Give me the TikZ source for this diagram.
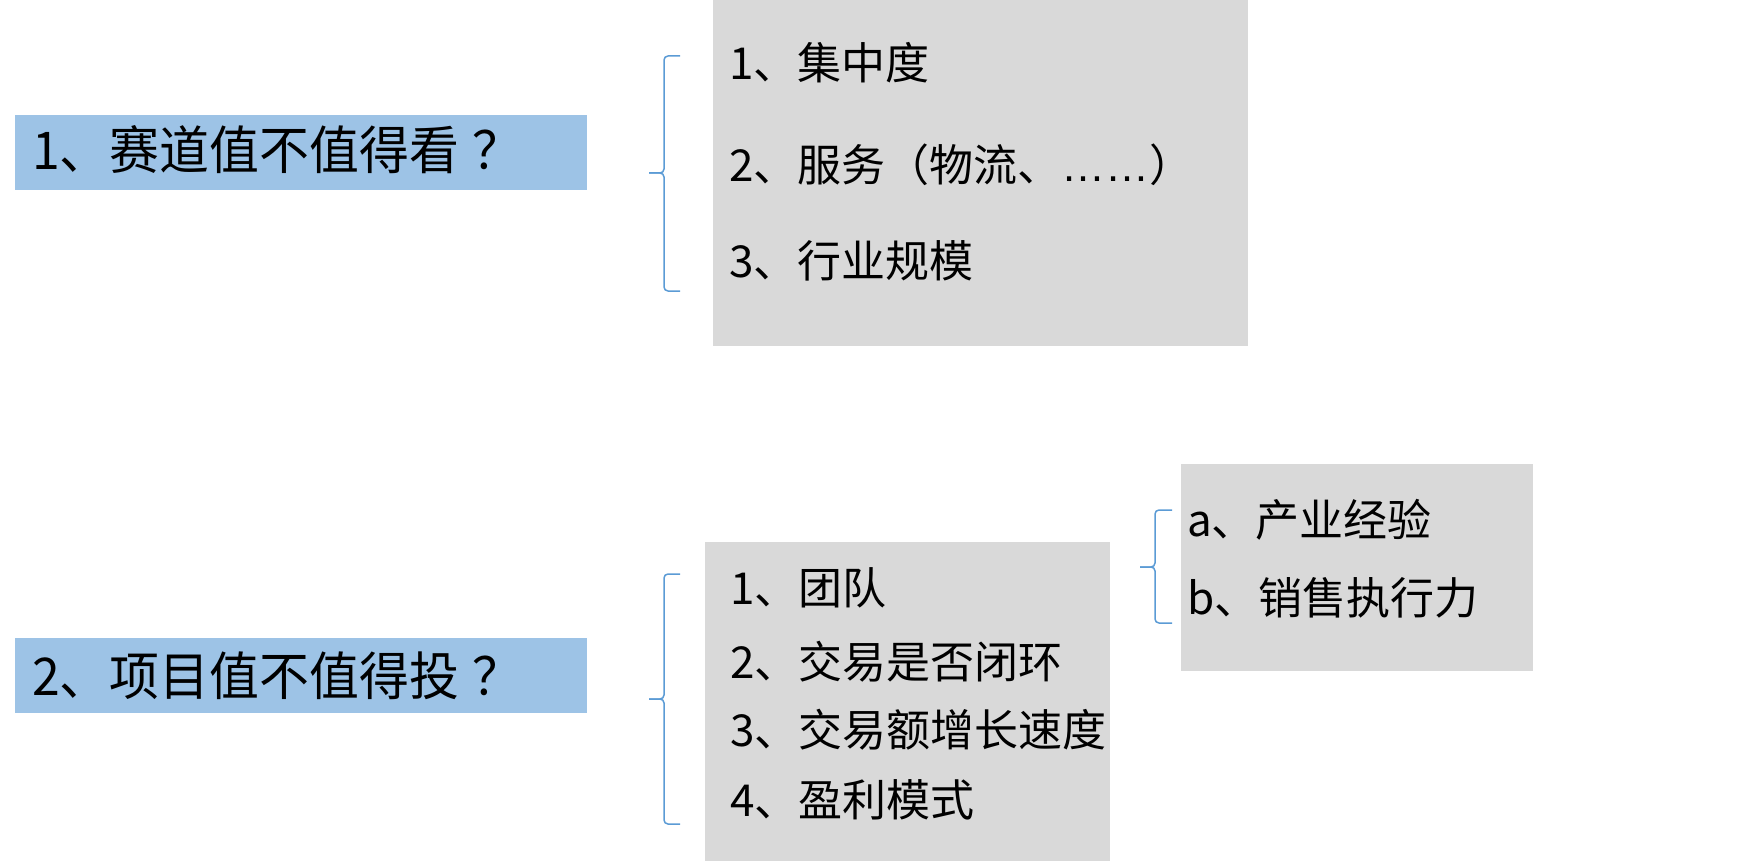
\documentclass[tikz,border=0pt]{standalone}
\usepackage{fontspec}
\setmainfont{Noto Sans CJK SC}
\newfontfamily\latfont{Liberation Sans}
\definecolor{qblue}{HTML}{9DC3E6}
\definecolor{qgrey}{HTML}{D9D9D9}
\definecolor{qline}{HTML}{5B9BD5}
\begin{document}
\begin{tikzpicture}[x=1pt,y=-1pt,
  panel/.style={draw=none,inner sep=0pt,outer sep=0pt,anchor=north west},
  bluebox/.style={panel,fill=qblue},
  greybox/.style={panel,fill=qgrey},
  bigtxt/.style={anchor=base west,inner sep=0pt,font=\fontsize{52pt}{60pt}\selectfont,xscale=0.96},
  itemtxt/.style={anchor=base west,inner sep=0pt,font=\fontsize{44pt}{52pt}\selectfont},
  bracket/.style={draw=qline,line width=1.5pt,rounded corners=4pt}]
\useasboundingbox (0,0) rectangle (1756,861);
% boxes
\node[bluebox,minimum width=572pt,minimum height=75pt] (q1) at (15,115) {};
\node[bluebox,minimum width=572pt,minimum height=75pt] (q2) at (15,638) {};
\node[greybox,minimum width=535pt,minimum height=346pt] (g1) at (713,0) {};
\node[greybox,minimum width=405pt,minimum height=319pt] (g2) at (705,542) {};
\node[greybox,minimum width=352pt,minimum height=207pt] (g3) at (1181,464) {};
% texts
\node[bigtxt] (t1) at (32,170) {1、赛道值不值得看\kern14pt？};
\node[bigtxt] (t2) at (32,695) {2、项目值不值得投\kern14pt？};
\node[itemtxt] (a1) at (729,80) {1、集中度};
\node[itemtxt] (a2) at (729,182) {2、服务（物流、{\latfont ……}）};
\node[itemtxt] (a3) at (729,277) {3、行业规模};
\node[itemtxt] (b1) at (730,604) {1、团队};
\node[itemtxt] (b2) at (730,678) {2、交易是否闭环};
\node[itemtxt] (b3) at (730,746) {3、交易额增长速度};
\node[itemtxt] (b4) at (730,816) {4、盈利模式};
\node[itemtxt] (c1) at (1187,536) {a、产业经验};
\node[itemtxt] (c2) at (1187,614) {b、销售执行力};
% braces
\coordinate (r1t) at (680,56);  \coordinate (r1m) at (649,173); \coordinate (r1b) at (680,291);
\coordinate (r2t) at (680,574); \coordinate (r2m) at (649,699); \coordinate (r2b) at (680,824);
\coordinate (r3t) at (1172,510); \coordinate (r3m) at (1140,567); \coordinate (r3b) at (1172,623);
\draw[bracket] (r1t) -- (664,56) -- (664,173) -- (r1m);
\draw[bracket] (r1m) -- (664,173) -- (664,291) -- (r1b);
\draw[bracket] (r2t) -- (664,574) -- (664,699) -- (r2m);
\draw[bracket] (r2m) -- (664,699) -- (664,824) -- (r2b);
\draw[bracket] (r3t) -- (1155,510) -- (1155,567) -- (r3m);
\draw[bracket] (r3m) -- (1155,567) -- (1155,623) -- (r3b);
\end{tikzpicture}
\end{document}
